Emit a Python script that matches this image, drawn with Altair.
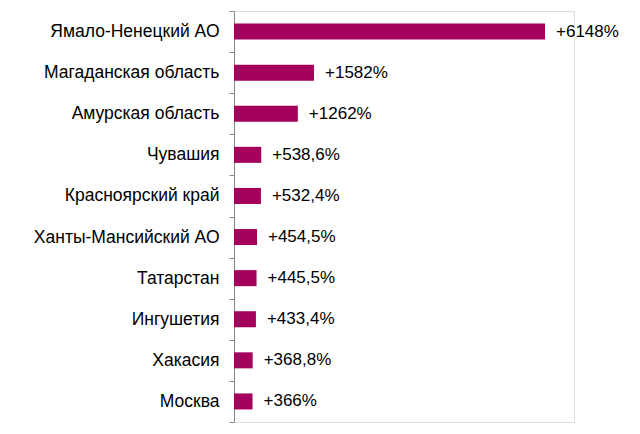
import altair as alt
import pandas as pd

regions = ["Ямало-Ненецкий АО", "Магаданская область", "Амурская область", "Чувашия",
           "Красноярский край", "Ханты-Мансийский АО", "Татарстан", "Ингушетия",
           "Хакасия", "Москва"]
values = [6148, 1582, 1262, 538.6, 532.4, 454.5, 445.5, 433.4, 368.8, 366]
labels = ["+6148%", "+1582%", "+1262%", "+538,6%", "+532,4%", "+454,5%",
          "+445,5%", "+433,4%", "+368,8%", "+366%"]

df = pd.DataFrame({"region": regions, "value": values, "label": labels})

FONT = "Liberation Sans"
W = 340
XMAX = 6148 * W / 311

y = alt.Y("region:N", sort=regions, title=None,
          scale=alt.Scale(paddingInner=0, paddingOuter=0),
          axis=alt.Axis(labelFont=FONT, labelFontSize=17.5, labelColor="#000000",
                        labelPadding=10, tickSize=5, tickColor="#888888",
                        domainColor="#888888", tickBand="extent", labelLimit=400))
x = alt.X("value:Q", title=None, scale=alt.Scale(domain=[0, XMAX], nice=False),
          axis=None)

bars = alt.Chart(df).mark_bar(color="#A6005D",
                              height=alt.RelativeBandSize(band=0.39)).encode(x=x, y=y)
text = alt.Chart(df).mark_text(align="left", dx=11, font=FONT, fontSize=17,
                               color="#000000").encode(x=x, y=y, text="label:N")

chart = (bars + text).properties(
    width=W, height=411,
    autosize=alt.AutoSizeParams(type="none"),
    padding={"left": 226, "top": 3, "right": 58, "bottom": 4},
).configure_view(stroke=None).configure(background="white")

chart.save("out.html", embed_options={"renderer": "svg", "actions": False})
